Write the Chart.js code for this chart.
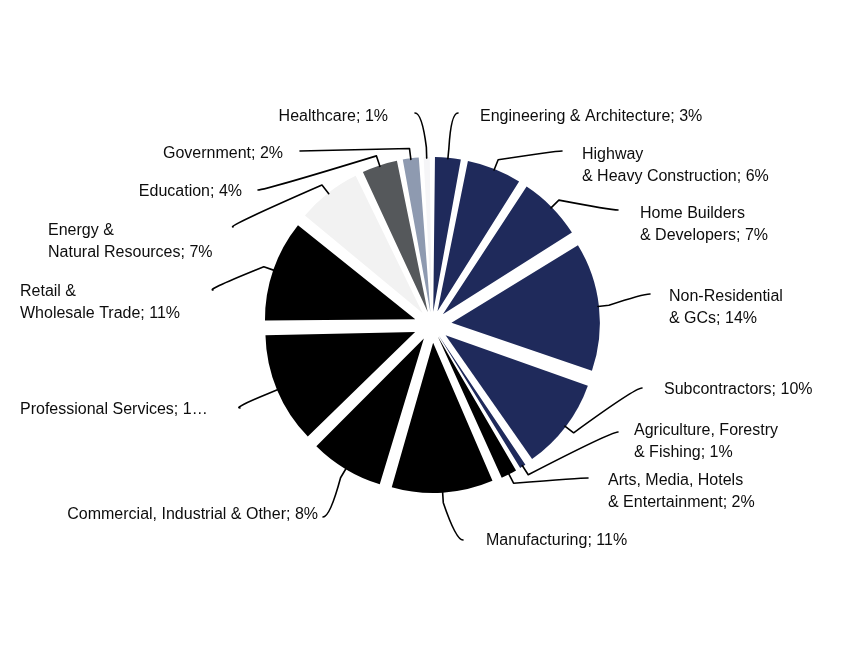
<!DOCTYPE html>
<html>
<head>
<meta charset="utf-8">
<script src="https://cdn.jsdelivr.net/npm/chart.js@4.4.1/dist/chart.umd.min.js"></script>
<style>
  html, body { margin: 0; padding: 0; background: #fff; }
  canvas { display: block; }
</style>
</head>
<body>
<canvas id="chart" width="862" height="652"></canvas>
<script>
// slices, clockwise from 12 o'clock
const categories = [
  ['Engineering & Architecture'],
  ['Highway', '& Heavy Construction'],
  ['Home Builders', '& Developers'],
  ['Non-Residential', '& GCs'],
  ['Subcontractors'],
  ['Agriculture, Forestry', '& Fishing'],
  ['Arts, Media, Hotels', '& Entertainment'],
  ['Manufacturing'],
  ['Commercial, Industrial & Other'],
  ['Professional Services'],
  ['Retail &', 'Wholesale Trade'],
  ['Energy &', 'Natural Resources'],
  ['Education'],
  ['Government'],
  ['Healthcare']
];
const shares = [3, 6, 7, 14, 10, 1, 2, 11, 8, 12, 11, 7, 4, 2, 1];

const NAVY = '#1f2a5b';
const sliceColors = [
  NAVY, NAVY, NAVY, NAVY, NAVY, NAVY,
  '#000000', '#000000', '#000000', '#000000', '#000000',
  '#f2f2f2', '#55585b', '#8e9ab0', '#f5f5f7'
];

// where each label sits (text x / first line y) and where its leader ends
const labelLayout = [
  { x: 480, y: 117, align: 'left',  end: [458, 113] },
  { x: 582, y: 155, align: 'left',  end: [562, 151] },
  { x: 640, y: 214, align: 'left',  end: [618, 210] },
  { x: 669, y: 297, align: 'left',  end: [650, 294] },
  { x: 664, y: 390, align: 'left',  end: [642, 388] },
  { x: 634, y: 431, align: 'left',  end: [618, 432] },
  { x: 608, y: 481, align: 'left',  end: [588, 478] },
  { x: 486, y: 541, align: 'left',  end: [463, 540] },
  { x: 318, y: 515, align: 'right', end: [323, 517] },
  { x: 20,  y: 410, align: 'left',  end: [240, 408], maxWidth: 190 },
  { x: 20,  y: 292, align: 'left',  end: [213, 290] },
  { x: 48,  y: 231, align: 'left',  end: [233, 227] },
  { x: 242, y: 192, align: 'right', end: [258, 190] },
  { x: 283, y: 154, align: 'right', end: [300, 151] },
  { x: 388, y: 117, align: 'right', end: [415, 113] }
];

const RADIUS = 144;   // pie radius before explosion
const EXPLODE = 24;   // how far the outer edge of every slice is pushed out
const FONT = '16px "Liberation Sans", Arial, sans-serif';

// chart.js moves an arc by offset/4 and grows it by offset/4 * (1 - sin(circ));
// pick the offset so every slice's outer edge ends up EXPLODE further out
function sliceOffset(ctx) {
  const vals = ctx.dataset.data;
  const total = vals.reduce((a, b) => a + b, 0);
  const circ = Math.PI * 2 * vals[ctx.dataIndex] / total;
  const fix = 1 - Math.sin(Math.min(Math.PI, circ));
  return 4 * EXPLODE / (1 + fix);
}

function fitText(ctx, text, maxWidth) {
  if (!maxWidth || ctx.measureText(text).width <= maxWidth) return text;
  let t = text;
  while (t.length > 1 && ctx.measureText(t + '…').width > maxWidth) t = t.slice(0, -1);
  return t + '…';
}

const outsideLabels = {
  id: 'outsideLabels',
  afterDatasetsDraw(chart) {
    const ctx = chart.ctx;
    const meta = chart.getDatasetMeta(0);
    const data = chart.data.datasets[0].data;
    const total = data.reduce((a, b) => a + b, 0);
    ctx.save();
    ctx.font = FONT;
    ctx.fillStyle = '#0d0d0d';
    ctx.strokeStyle = '#000';
    ctx.lineWidth = 1.6;
    ctx.lineJoin = 'round';
    ctx.lineCap = 'round';
    ctx.textBaseline = 'middle';

    meta.data.forEach((arc, i) => {
      const p = arc.getProps(['x', 'y', 'startAngle', 'endAngle', 'outerRadius'], true);
      const mid = (p.startAngle + p.endAngle) / 2;
      const r = p.outerRadius + EXPLODE;
      const ux = Math.cos(mid), uy = Math.sin(mid);
      const x0 = p.x + ux * (r - 1), y0 = p.y + uy * (r - 1);
      const x1 = x0 + ux * 11, y1 = y0 + uy * 11;
      const lay = labelLayout[i];
      const [x2, y2] = lay.end;
      const s = lay.align === 'left' ? 1 : -1;

      ctx.beginPath();
      ctx.moveTo(x0, y0);
      ctx.lineTo(x1, y1);
      ctx.quadraticCurveTo(x2 - s * 7, y2, x2, y2);
      ctx.stroke();

      const pct = Math.round(data[i] / total * 100);
      const lines = chart.data.labels[i].slice();
      lines[lines.length - 1] += '; ' + pct + '%';
      ctx.textAlign = lay.align;
      lines.forEach((ln, k) => {
        ctx.fillText(fitText(ctx, ln, lay.maxWidth), lay.x, lay.y + k * 22);
      });
    });
    ctx.restore();
  }
};

new Chart(document.getElementById('chart'), {
  type: 'pie',
  data: {
    labels: categories,
    datasets: [{
      data: shares,
      backgroundColor: sliceColors,
      borderWidth: 0,
      offset: sliceOffset,
      hoverOffset: 0
    }]
  },
  options: {
    responsive: false,
    animation: false,
    radius: RADIUS,
    layout: { padding: { left: 100, right: 98, top: 99, bottom: 101 } },
    plugins: {
      legend: { display: false },
      tooltip: { enabled: false }
    }
  },
  plugins: [outsideLabels]
});
</script>
</body>
</html>
